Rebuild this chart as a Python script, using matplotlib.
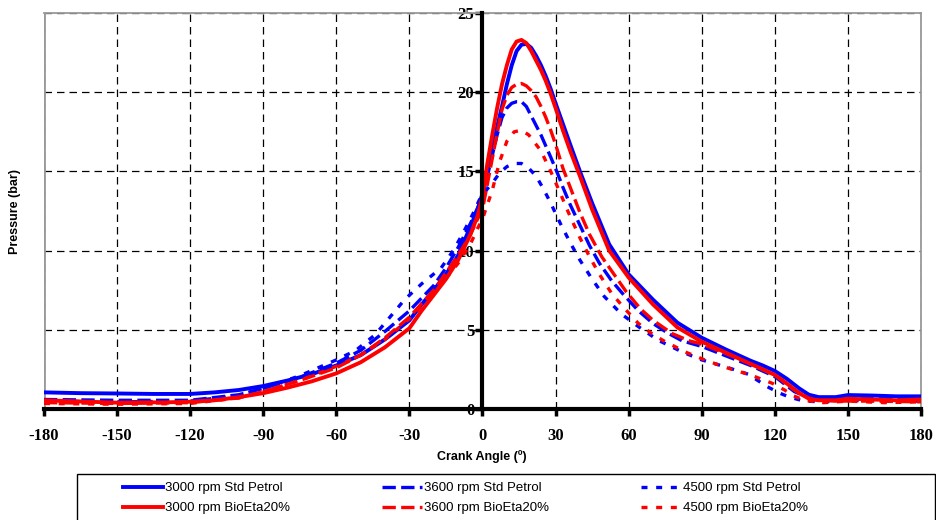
import numpy as np
import matplotlib
matplotlib.use("Agg")
import matplotlib.pyplot as plt
from matplotlib.patches import Rectangle

plt.rcParams["axes.unicode_minus"] = False

# ---- data (crank angle in deg, pressure in bar) ----
ang_petrol_3000 = [-180, -165, -150, -135, -120, -110, -100, -90, -80, -70, -60, -50, -40, -30, -25, -20, -15, -10, -5, -2,
                   0, 2, 4, 6, 8, 10, 12, 14, 16, 18, 20, 22, 24, 26, 28, 30, 33, 36, 40, 45, 52, 60, 70, 80, 90,
                   100, 110, 115, 120, 125, 130, 134, 138, 145, 150, 160, 170, 180]
p_petrol_3000 = [1.05, 1.0, 0.98, 0.95, 0.95, 1.05, 1.2, 1.45, 1.8, 2.2, 2.75, 3.4, 4.4, 5.6, 6.6, 7.5, 8.5, 9.7, 11.5, 12.6,
                 13.6, 15.0, 16.4, 17.8, 19.1, 20.5, 21.7, 22.6, 23.0, 23.05, 22.8, 22.3, 21.7, 21.0, 20.2, 19.3, 18.0, 16.7, 15.0, 13.0, 10.4, 8.5, 6.9, 5.45, 4.5,
                 3.75, 3.05, 2.75, 2.4, 1.9, 1.3, 0.9, 0.75, 0.75, 0.88, 0.85, 0.8, 0.8]

ang_bio_3000 = [-180, -170, -160, -150, -140, -130, -120, -110, -100, -90, -80, -70, -60, -50, -40, -30, -25, -20, -15, -10, -5, -2,
                0, 2, 4, 6, 8, 10, 12, 14, 16, 18, 20, 22, 24, 26, 28, 30, 33, 36, 40, 45, 52, 60, 70, 80, 90,
                100, 110, 115, 120, 125, 130, 134, 138, 145, 150, 160, 170, 180]
p_bio_3000 = [0.55, 0.5, 0.45, 0.4, 0.42, 0.42, 0.46, 0.55, 0.75, 1.0, 1.35, 1.75, 2.25, 2.95, 3.9, 5.1, 6.2, 7.2, 8.2, 9.4, 11.0, 12.2,
              13.4, 15.5, 17.3, 19.0, 20.5, 21.7, 22.7, 23.2, 23.3, 23.1, 22.6, 22.0, 21.4, 20.7, 19.9, 19.0, 17.6, 16.3, 14.7, 12.6, 10.0, 8.3, 6.6, 5.15, 4.25,
              3.55, 2.85, 2.5, 2.15, 1.6, 1.0, 0.65, 0.55, 0.55, 0.65, 0.6, 0.55, 0.6]

ang_petrol_3600 = [-180, -150, -120, -100, -90, -75, -60, -50, -40, -30, -20, -15, -10, -5, -2, 0, 2, 4, 6, 8, 10, 12, 14, 16, 18,
                   21, 24, 26, 28, 31, 33, 36, 40, 44, 48, 53, 58, 64, 70, 76, 82, 90, 100, 110, 120, 128, 135, 145, 160, 180]
p_petrol_3600 = [0.6, 0.55, 0.55, 0.9, 1.3, 2.0, 2.9, 3.7, 4.9, 6.2, 7.8, 8.9, 10.2, 11.7, 12.7, 13.4, 14.7, 16.0, 17.3, 18.4, 19.0, 19.3, 19.4, 19.4, 19.1,
                 18.2, 17.3, 16.6, 15.9, 14.8, 14.0, 12.9, 11.6, 10.3, 9.2, 8.1, 7.2, 6.2, 5.4, 4.8, 4.3, 3.95, 3.35, 2.75, 2.05, 1.1, 0.65, 0.65, 0.65, 0.6]

ang_bio_3600 = [-180, -150, -120, -100, -90, -75, -60, -50, -40, -30, -20, -15, -10, -5, -2, 0, 2, 4, 6, 8, 10, 12, 14, 16, 18,
                20, 22, 24, 26, 28, 30, 33, 36, 40, 44, 49, 54, 59, 65, 70, 78, 85, 90, 100, 110, 120, 128, 135, 145, 160, 180]
p_bio_3600 = [0.4, 0.35, 0.4, 0.7, 1.1, 1.8, 2.6, 3.4, 4.5, 5.8, 7.5, 8.6, 9.7, 11.0, 12.0, 12.6, 14.2, 15.8, 17.4, 18.9, 19.8, 20.3, 20.5, 20.55, 20.4,
              20.1, 19.7, 19.1, 18.4, 17.6, 16.7, 15.2, 14.0, 12.4, 11.0, 9.6, 8.5, 7.4, 6.3, 5.6, 4.75, 4.3, 4.1, 3.5, 2.85, 2.15, 1.2, 0.6, 0.5, 0.5, 0.45]

ang_petrol_4500 = [-180, -150, -120, -100, -90, -75, -60, -52, -44, -38, -32, -25, -17, -12, -8, -4, -1, 2, 4, 7, 10, 13, 16, 19,
                   22, 25, 28, 32, 36, 40, 45, 50, 57, 64, 72, 82, 90, 100, 109, 117, 122, 126, 132, 140, 150, 165, 180]
p_petrol_4500 = [0.5, 0.45, 0.5, 0.85, 1.3, 2.1, 3.1, 3.7, 4.7, 5.8, 6.9, 7.9, 8.9, 10.0, 11.1, 12.3, 13.3, 13.9, 14.25, 14.9, 15.3, 15.5, 15.5, 15.2,
                 14.7, 13.9, 13.0, 11.7, 10.5, 9.4, 8.2, 7.1, 6.0, 5.2, 4.35, 3.6, 3.1, 2.65, 2.2, 1.4, 1.0, 0.75, 0.5, 0.45, 0.55, 0.5, 0.5]

ang_bio_4500 = [-180, -150, -120, -100, -90, -75, -60, -50, -40, -30, -20, -10, -5, -2, 0, 2, 4, 7, 10, 13, 16, 19, 22, 24,
                28, 32, 35, 40, 44, 48, 53, 58, 64, 70, 75, 84, 92, 101, 110, 119, 124, 127, 132, 140, 150, 165, 180]
p_bio_4500 = [0.35, 0.3, 0.35, 0.7, 1.1, 1.8, 2.7, 3.4, 4.4, 5.7, 7.3, 9.2, 10.4, 11.4, 12.0, 12.9, 13.8, 15.6, 16.9, 17.5, 17.6, 17.3, 16.7, 16.3,
              15.0, 13.6, 12.5, 10.8, 9.6, 8.5, 7.3, 6.4, 5.4, 4.7, 4.25, 3.55, 3.05, 2.57, 2.15, 1.62, 1.2, 0.88, 0.55, 0.4, 0.5, 0.4, 0.45]

x_ticks = list(range(-180, 181, 30))
y_ticks = list(range(0, 26, 5))

BLUE = "#0000FF"
RED = "#FF0000"
DASH_3600 = (0, (4, 1.6))
DASH_4500 = (0, (1.8, 2.6))

fig = plt.figure(figsize=(9.37, 5.2), dpi=100)
ax = fig.add_axes([44 / 937, 1 - 409 / 520, (921 - 44) / 937, (409 - 13) / 520])

series = [
    (ang_petrol_3000, p_petrol_3000, BLUE, "-", 2.8, "3000 rpm Std Petrol"),
    (ang_petrol_3600, p_petrol_3600, BLUE, DASH_3600, 2.4, "3600 rpm Std Petrol"),
    (ang_petrol_4500, p_petrol_4500, BLUE, DASH_4500, 2.4, "4500 rpm Std Petrol"),
    (ang_bio_3000, p_bio_3000, RED, "-", 2.8, "3000 rpm BioEta20%"),
    (ang_bio_3600, p_bio_3600, RED, DASH_3600, 2.4, "3600 rpm BioEta20%"),
    (ang_bio_4500, p_bio_4500, RED, DASH_4500, 2.4, "4500 rpm BioEta20%"),
]
handles = {}
for xs, ys, col, ls, lw, lab in series:
    (ln,) = ax.plot(xs, ys, color=col, linestyle=ls, linewidth=lw, label=lab, zorder=3)
    handles[lab] = ln

ax.set_xlim(x_ticks[0], x_ticks[-1])
ax.set_ylim(y_ticks[0], y_ticks[-1])
ax.set_xticks(x_ticks)
ax.set_yticks(y_ticks)

# grid & frame
ax.grid(True, color="black", linestyle=(0, (6, 4)), linewidth=0.9)
ax.set_axisbelow(True)
for side in ("top", "right"):
    ax.spines[side].set_color("#999999")
    ax.spines[side].set_linewidth(1.3)
ax.axvline(x_ticks[0], color="#999999", linewidth=2.0, zorder=2.6)
ax.spines["left"].set_position(("data", 0))
ax.spines["left"].set_color("black")
ax.spines["left"].set_linewidth(3)
ax.spines["left"].set_zorder(4)
ax.spines["bottom"].set_color("black")
ax.spines["bottom"].set_linewidth(3)
ax.spines["bottom"].set_zorder(4)

ax.tick_params(axis="both", direction="out", length=5, width=2.5, color="black")
ax.tick_params(axis="y", pad=1)
ax.tick_params(axis="x", pad=9)
for lbl in ax.get_xticklabels() + ax.get_yticklabels():
    lbl.set_fontfamily("Liberation Serif")
    lbl.set_fontweight("bold")
    lbl.set_fontsize(12)

fig.text(15 / 937, 1 - 211 / 520, "Pressure (bar)", rotation=90, ha="center", va="center",
         fontsize=9, fontweight="bold", family="Liberation Sans")
fig.text(482 / 937, 1 - 457 / 520, "Crank Angle (º)", ha="center", va="center",
         fontsize=9, fontweight="bold", family="Liberation Sans")

# legend: frame drawn separately (it runs off the bottom of the image)
fig.patches.append(Rectangle((77 / 937, 1 - 540 / 520), (935 - 77) / 937, (540 - 474) / 520,
                             transform=fig.transFigure, fill=False, edgecolor="black", linewidth=1.0))
order = ["3000 rpm Std Petrol", "3000 rpm BioEta20%",
         "3600 rpm Std Petrol", "3600 rpm BioEta20%",
         "4500 rpm Std Petrol", "4500 rpm BioEta20%"]
leg = fig.legend([handles[k] for k in order], order, ncol=3, loc="upper left",
                 bbox_to_anchor=(123 / 937, 1 - 482 / 520), frameon=False, borderaxespad=0,
                 borderpad=0, handlelength=3.0, handletextpad=0.2, columnspacing=6.95,
                 labelspacing=0.6, prop=dict(family="Liberation Sans", size=9.5))

fig.savefig("out.png", dpi=100)
